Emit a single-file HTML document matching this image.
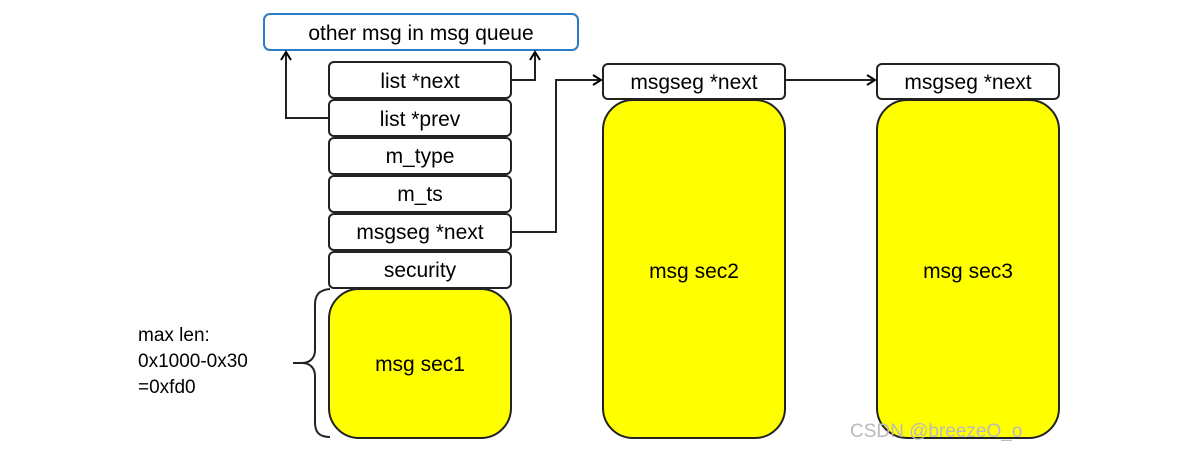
<!DOCTYPE html>
<html><head><style>
body{margin:0;width:1203px;height:452px;background:#fff;overflow:hidden}
text{font-family:"Comic Sans MS","Liberation Sans",sans-serif;font-size:21px;fill:#000}
</style></head><body>
<svg width="1203" height="452" xmlns="http://www.w3.org/2000/svg">
<defs><marker id="a" markerWidth="12" markerHeight="12" refX="10" refY="6" orient="auto" markerUnits="userSpaceOnUse"><path d="M2,1 L10,6 L2,11" fill="none" stroke="#000" stroke-width="2"/></marker></defs>
<rect x="264" y="14" width="314" height="36" rx="6" fill="#fff" stroke="#2b7cc4" stroke-width="2"/>
<text x="421" y="40" text-anchor="middle">other msg in msg queue</text>
<g fill="#fff" stroke="#222" stroke-width="2">
<rect x="329" y="62" width="182" height="36" rx="5"/>
<rect x="329" y="100" width="182" height="36" rx="5"/>
<rect x="329" y="138" width="182" height="36" rx="5"/>
<rect x="329" y="176" width="182" height="36" rx="5"/>
<rect x="329" y="214" width="182" height="36" rx="5"/>
<rect x="329" y="252" width="182" height="36" rx="5"/>
<rect x="603" y="64" width="182" height="35" rx="5"/>
<rect x="877" y="64" width="182" height="35" rx="5"/>
</g>
<g fill="#ffff00" stroke="#222" stroke-width="2">
<rect x="329" y="289" width="182" height="149" rx="30"/>
<rect x="603" y="100" width="182" height="338" rx="30"/>
<rect x="877" y="100" width="182" height="338" rx="30"/>
</g>
<g text-anchor="middle">
<text x="420" y="88">list *next</text>
<text x="420" y="126">list *prev</text>
<text x="420" y="163">m_type</text>
<text x="420" y="201">m_ts</text>
<text x="420" y="239">msgseg *next</text>
<text x="420" y="277">security</text>
<text x="694" y="89">msgseg *next</text>
<text x="968" y="89">msgseg *next</text>
<text x="420" y="371">msg sec1</text>
<text x="694" y="278">msg sec2</text>
<text x="968" y="278">msg sec3</text>
</g>
<g fill="none" stroke="#222" stroke-width="2">
<path d="M511,80 H535 V52" marker-end="url(#a)"/>
<path d="M329,118 H286 V52" marker-end="url(#a)"/>
<path d="M511,232 H556 V80 H601" marker-end="url(#a)"/>
<path d="M785,80 H875" marker-end="url(#a)"/>
<path d="M330,289 C318,290 315,296 315,305 V350 C315,358 310,363 302,363 H293 M302,363 C310,363 315,368 315,376 V422 C315,431 318,437 330,437"/>
</g>
<text x="138" y="341" style="font-size:19px">max len:</text>
<text x="138" y="367" style="font-size:19px">0x1000-0x30</text>
<text x="138" y="393" style="font-size:19px">=0xfd0</text>
<text x="850" y="437" style="font-size:19px;fill:#bbb">CSDN @breezeO_o</text>
</svg>
</body></html>
